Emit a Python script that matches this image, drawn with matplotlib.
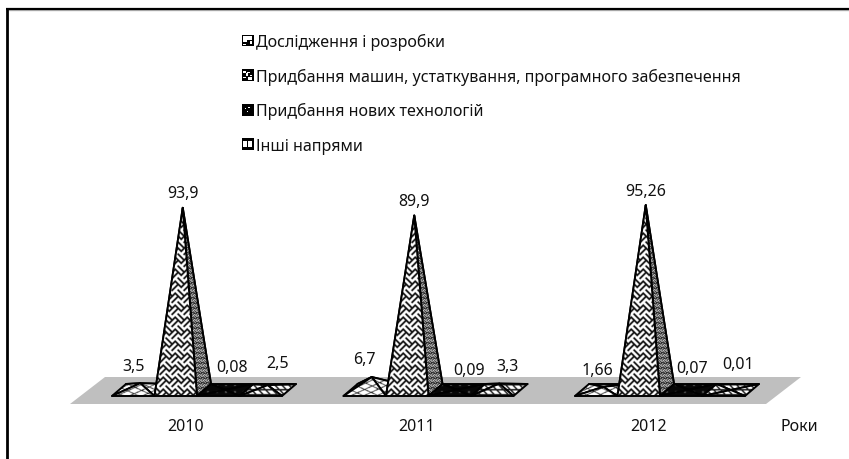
import numpy as np
import matplotlib
matplotlib.use("Agg")
import matplotlib.pyplot as plt
from matplotlib.patches import Patch, Polygon, Rectangle
from matplotlib.legend_handler import HandlerBase

plt.rcParams['font.family'] = ['Noto Sans', 'DejaVu Sans']

years = ['2010', '2011', '2012']
series = ['Дослідження і розробки',
          'Придбання машин, устаткування, програмного забезпечення',
          'Придбання нових технологій',
          'Інші напрями']
v_research = [3.5, 6.7, 1.66]
v_machines = [93.9, 89.9, 95.26]
v_tech = [0.08, 0.09, 0.07]
v_other = [2.5, 3.3, 0.01]
labels_research = ['3,5', '6,7', '1,66']
labels_machines = ['93,9', '89,9', '95,26']
labels_tech = ['0,08', '0,09', '0,07']
labels_other = ['2,5', '3,3', '0,01']
axis_title = 'Роки'

values = [v_research, v_machines, v_tech, v_other]
texts = [labels_research, labels_machines, labels_tech, labels_other]

# oblique projection, pixels
GROUP0, GROUP_STEP = 112.0, 231.5
BAR_W = 42.5
BASE_Y = 397.0
DX, DY = 14.0, -12.0
PX_PER_UNIT = 1.94

W, H = 849, 460
fig = plt.figure(figsize=(W / 100, H / 100), dpi=100)
ax = fig.add_axes([0, 0, 1, 1])
ax.set_xlim(0, W)
ax.set_ylim(H, 0)
ax.axis('off')

yy, xx = np.mgrid[0:H * 2, 0:W * 2]
xx = xx / 2.0
yy = yy / 2.0


def weave(P=16.0, lw=2.6):
    u, v = xx + yy, xx - yy
    check = (np.floor(u / P) + np.floor(v / P)) % 2 == 0
    a = (u % (P / 2) < lw)
    b = (v % (P / 2) < lw)
    return 1.0 - np.where(check, a, b) * 0.95


def sparse():
    a = ((xx + 2.2 * yy) % 13 < 1.8)
    b = ((xx - 2.2 * yy) % 15 < 1.8)
    return 1.0 - (a | b) * 0.95


def dark():
    a = (xx % 9 < 2.0) & (yy % 7 < 2.0)
    return 0.03 + a * 0.3


def grid():
    a = ((xx - yy) % 7 < 1.6)
    b = (yy % 5 < 1.4)
    return 1.0 - (a | b) * 0.9


TEX = {'sparse': sparse(), 'weave': weave(12.0, 2.1), 'dense': weave(5.0, 1.3),
       'dark': dark(), 'grid': grid()}
FRONT = ['sparse', 'weave', 'dark', 'grid']
SIDE = ['sparse', 'dense', 'dark', 'grid']


def face(pts, tex, z):
    ax.add_patch(Polygon(pts, closed=True, facecolor='none', edgecolor='black',
                         lw=1.4, joinstyle='round', zorder=z + 0.5))
    clip = Polygon(pts, closed=True, transform=ax.transData)
    im = ax.imshow(TEX[tex], extent=(0, W, H, 0), cmap='gray', vmin=0, vmax=1,
                   interpolation='bilinear', zorder=z, aspect='auto')
    im.set_clip_path(clip)


# floor
ax.add_patch(Polygon([(70, 405), (766, 405), (801, 378), (105, 378)], closed=True,
                     facecolor='#bfbfbf', edgecolor='none', zorder=1))

z = 2
label_off = [[(-7, -17), (-7, -18), (-6, -17)],
             [(0, -15), (0, -15), (0, -14)],
             [(7, -23), (12, -20), (4, -22)],
             [(10, -22), (8, -18), (7, -26)]]
for g in range(len(years)):
    gx = GROUP0 + g * GROUP_STEP
    for s in range(len(series)):
        x0 = gx + s * BAR_W
        x1 = x0 + BAR_W
        cx = (x0 + x1) / 2 + DX / 2
        cy = BASE_Y + DY / 2
        apex = (cx, cy - values[s][g] * PX_PER_UNIT)
        fl, fr = (x0, BASE_Y), (x1, BASE_Y)
        bl, br = (x0 + DX, BASE_Y + DY), (x1 + DX, BASE_Y + DY)
        face([bl, br, apex], FRONT[s], z)
        face([fl, bl, apex], FRONT[s], z + 1)
        face([fr, br, apex], SIDE[s], z + 2)
        face([fl, fr, apex], FRONT[s], z + 3)
        z += 4
        ox, oy = label_off[s][g]
        ax.text(apex[0] + ox, apex[1] + oy, texts[s][g], ha='center', va='center',
                fontsize=11.5, color='#111111', zorder=100)
    ax.text(gx + 73.5, 427, years[g], ha='center', va='center',
            fontsize=11.5, color='#111111', zorder=100)

ax.text(799, 427, axis_title, ha='center', va='center', fontsize=11.5, color='#111111')


class IconHandler(HandlerBase):
    """Small black-framed legend square with white cells on a 9x9 grid."""

    def __init__(self, cells):
        super().__init__()
        self.cells = cells

    def create_artists(self, legend, orig, xd, yd, w, h, fontsize, trans):
        side = min(w, h)
        y0 = -yd + (h - side) / 2
        x0 = -xd
        arts = [Rectangle((x0, y0), side, side, facecolor='black', edgecolor='none',
                          transform=trans)]
        c = side / 9.0
        for (i, j, a, b) in self.cells:
            arts.append(Rectangle((x0 + (i + 1) * c, y0 + (j + 1) * c), a * c, b * c,
                                  facecolor='white', edgecolor='none', transform=trans))
        return arts


ICONS = [
    [(0, 2, 3, 5), (3, 4, 4, 3), (5, 1, 2, 2), (0, 0, 2, 1)],
    [(0, 5, 2, 2), (3, 5, 2, 1), (2, 3, 2, 2), (5, 3, 2, 1), (0, 1, 2, 1), (4, 0, 3, 2)],
    [(1, 4, 1, 1), (4, 5, 1, 1), (3, 2, 1, 1)],
    [(0, 1, 3, 5), (4, 1, 3, 5)],
]
handles = [Patch(label=name) for name in series]
hmap = {h: IconHandler(c) for h, c in zip(handles, ICONS)}
leg = ax.legend(handles, series, loc='upper left', bbox_to_anchor=(242 / W, 1 - 34 / H),
                bbox_transform=fig.transFigure, frameon=False, fontsize=11.55,
                handlelength=0.72, handleheight=0.98, handletextpad=0.16,
                labelspacing=1.1, borderpad=0, borderaxespad=0, handler_map=hmap,
                labelcolor='#111111')

# frame: only left and top edges
ax.plot([7, 7], [460, 9], color='black', lw=2, zorder=200, solid_capstyle='butt')
ax.plot([6, W], [9.5, 9.5], color='black', lw=1.6, zorder=200, solid_capstyle='butt')
ax.plot([8, W], [11, 11], color='#bbbbbb', lw=1, zorder=199, solid_capstyle='butt')

fig.savefig('out.png', dpi=100)
